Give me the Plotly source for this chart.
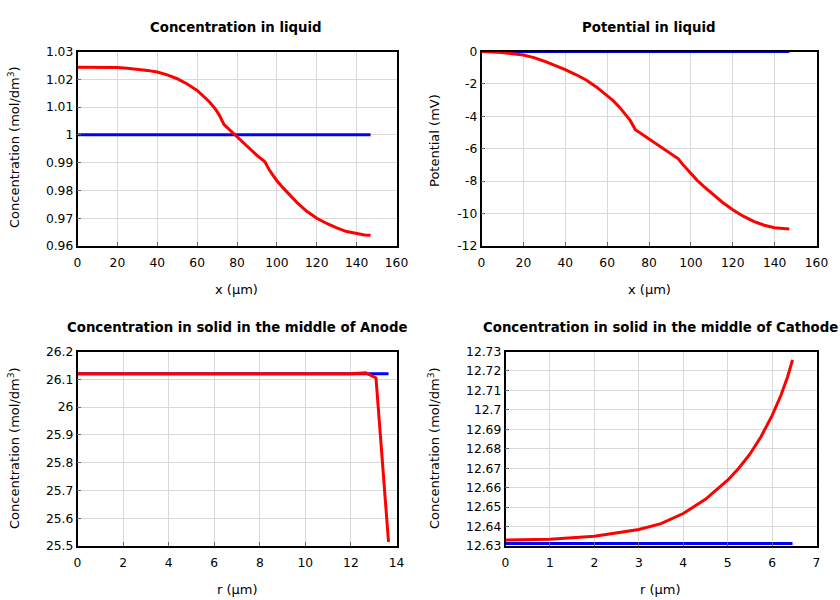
import plotly.graph_objects as go

# Panel 1: Concentration in liquid
x_liq = [0, 10, 20, 25, 30, 35, 40, 45, 50, 55, 60, 63, 66, 69, 71, 73.5, 80, 86, 90, 94,
         96, 98, 100, 103, 106, 110, 115, 120, 125, 130, 135, 140, 144, 147]
c_liq_red = [1.0243, 1.0243, 1.0242, 1.0240, 1.0237, 1.0232, 1.0226, 1.0216, 1.0202, 1.0183,
             1.0160, 1.0141, 1.0120, 1.0094, 1.0073, 1.0037, 0.9994, 0.9952, 0.9926, 0.9903,
             0.9876, 0.9855, 0.9835, 0.9810, 0.9786, 0.9757, 0.9725, 0.9700, 0.9681, 0.9665,
             0.9652, 0.9644, 0.9640, 0.9639]
c_liq_blue = [1.0] * len(x_liq)

# Panel 2: Potential in liquid
phi_red = [0.0, -0.06, -0.22, -0.38, -0.6, -0.84, -1.12, -1.42, -1.76, -2.2,
           -2.7, -3.05, -3.45, -3.9, -4.25, -4.82, -5.4, -5.95, -6.28, -6.62,
           -6.95, -7.25, -7.55, -7.95, -8.3, -8.76, -9.3, -9.76, -10.16, -10.48,
           -10.72, -10.87, -10.93, -10.95]
phi_blue = [0.0] * len(x_liq)

# Panel 3: Concentration in solid, anode
r_an = [0, 2, 4, 6, 8, 10, 12, 12.65, 13.1, 13.65]
c_an_red = [26.12, 26.12, 26.12, 26.12, 26.12, 26.12, 26.12, 26.123, 26.105, 25.515]
r_an_blue = [0, 13.65]
c_an_blue = [26.12, 26.12]

# Panel 4: Concentration in solid, cathode
r_ca = [0, 1, 2, 3, 3.5, 4, 4.5, 5, 5.25, 5.5, 5.75, 6, 6.2, 6.35, 6.46]
c_ca_red = [12.6331, 12.6335, 12.6350, 12.6385, 12.6415, 12.6467, 12.6540, 12.6638, 12.6700,
            12.6772, 12.6862, 12.6970, 12.7075, 12.7170, 12.7257]
r_ca_blue = [0, 6.46]
c_ca_blue = [12.6313, 12.6313]

# Tick labels for potential axis (hyphen minus as in the reference)
phi_ticks = [0, -2, -4, -6, -8, -10, -12]
phi_ticktext = ["0", "-2", "-4", "-6", "-8", "-10", "-12"]

titles = ["Concentration in liquid", "Potential in liquid",
          "Concentration in solid in the middle of Anode",
          "Concentration in solid in the middle of Cathode"]
conc_title = "Concentration (mol/dm<sup>3</sup>)"
x_titles = ["x (µm)", "x (µm)", "r (µm)", "r (µm)"]
y_titles = [conc_title, "Potential (mV)", conc_title, conc_title]

RED = "#ff0000"
BLUE = "#0000ff"
W, H = 840, 600

fig = go.Figure()

def add(x, y, color, ax):
    fig.add_trace(go.Scatter(x=x, y=y, mode="lines", line=dict(color=color, width=3),
                             xaxis="x" + ax, yaxis="y" + ax, showlegend=False))

add(x_liq, c_liq_blue, BLUE, "")
add(x_liq, c_liq_red, RED, "")
add(x_liq, phi_blue, BLUE, "2")
add(x_liq, phi_red, RED, "2")
add(r_an_blue, c_an_blue, BLUE, "3")
add(r_an, c_an_red, RED, "3")
add(r_ca_blue, c_ca_blue, BLUE, "4")
add(r_ca, c_ca_red, RED, "4")

def px_x(a, b):
    return [a / W, b / W]

def px_y(top, bot):
    return [1 - bot / H, 1 - top / H]

common = dict(showline=True, linecolor="black", linewidth=1.5, mirror=True,
              showgrid=True, gridcolor="#d9d9d9", gridwidth=1, zeroline=False,
              ticks="inside", ticklen=4, tickcolor="#666666", automargin=False,
              tickfont=dict(size=12.3, color="black"))

doms = {
    "": (px_x(77.5, 396.5), px_y(51.5, 246)),
    "2": (px_x(481.5, 816.5), px_y(51.5, 246)),
    "3": (px_x(77.5, 396.5), px_y(351.5, 546)),
    "4": (px_x(505.5, 816.5), px_y(351.5, 546)),
}

xcfg = {
    "": dict(range=[0, 160], dtick=20),
    "2": dict(range=[0, 160], dtick=20),
    "3": dict(range=[0, 14], dtick=2),
    "4": dict(range=[0, 7], dtick=1),
}
ycfg = {
    "": dict(range=[0.96, 1.03], dtick=0.01),
    "2": dict(range=[-12, 0], tickvals=phi_ticks, ticktext=phi_ticktext),
    "3": dict(range=[25.5, 26.2], dtick=0.1),
    "4": dict(range=[12.63, 12.73], dtick=0.01),
}

lay = {}
for k in ["", "2", "3", "4"]:
    dx, dy = doms[k]
    lay["xaxis" + k] = dict(common, domain=dx, anchor="y" + k, ticklabelstandoff=4, **xcfg[k])
    lay["yaxis" + k] = dict(common, domain=dy, anchor="x" + k, **ycfg[k])

fig.update_layout(**lay)

def ann(text, cx, cy, size, angle=0):
    fig.add_annotation(text=text, x=cx / W, y=1 - cy / H, xref="paper", yref="paper",
                       showarrow=False, xanchor="center", yanchor="middle", textangle=angle,
                       font=dict(size=size, color="black"))

title_pos = [(236, 27), (649, 27), (237, 327), (660, 327)]
xt_pos = [(236, 289), (649, 289), (237, 589), (660, 589)]
yt_pos = [(14, 147), (434, 141), (14, 448), (434, 448)]
for i in range(4):
    ann("<b>" + titles[i] + "</b>", *title_pos[i], 13.3)
    ann(x_titles[i], *xt_pos[i], 13)
    ann(y_titles[i], *yt_pos[i], 13, angle=-90)

fig.update_layout(width=W, height=H, margin=dict(l=0, r=0, t=0, b=0, autoexpand=False),
                  paper_bgcolor="white", plot_bgcolor="white",
                  font=dict(family="DejaVu Sans", color="black"))

fig.write_html("out.html", config={"displayModeBar": False},
               post_script="document.body.style.margin='0';document.body.style.overflow='hidden';")
